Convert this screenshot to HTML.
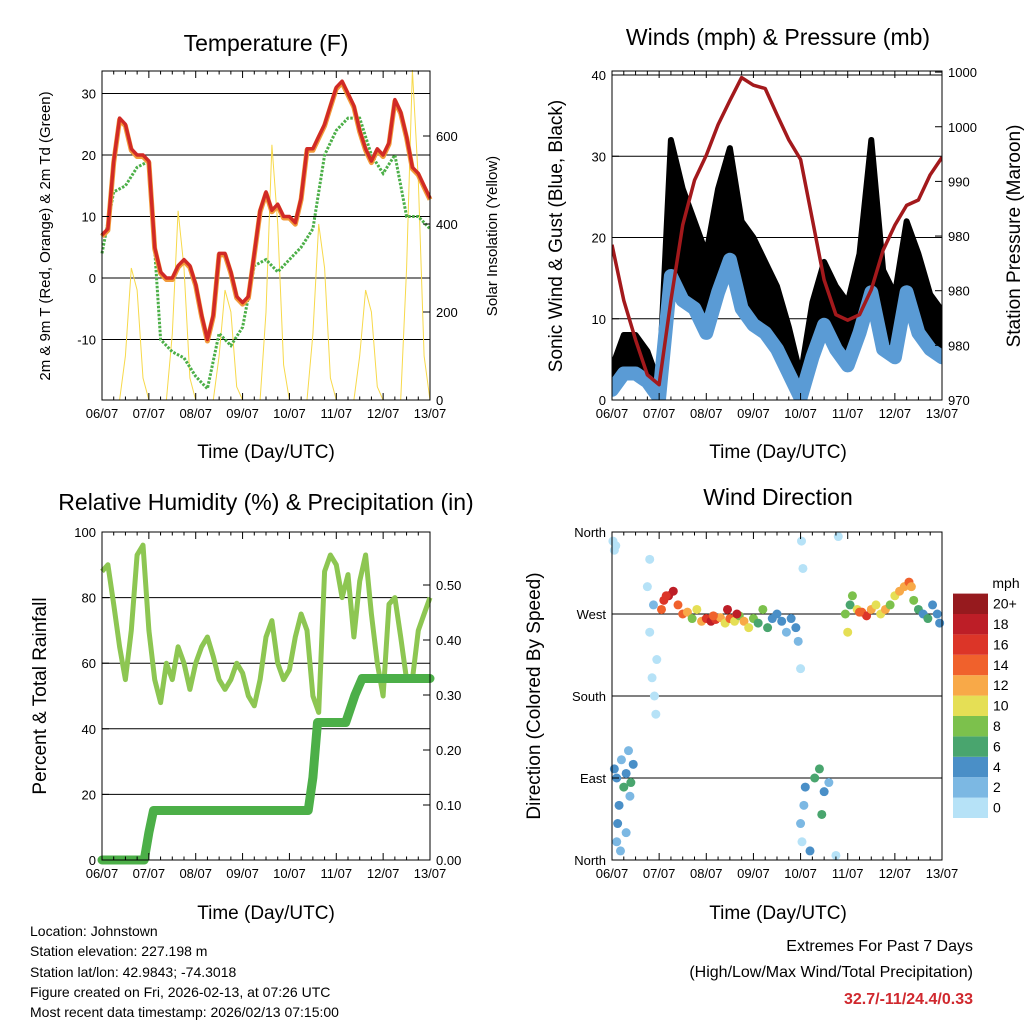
<!DOCTYPE html>
<html><head><meta charset="utf-8"><style>
html,body{margin:0;padding:0;background:#fff;}
svg{display:block;font-family:"Liberation Sans",sans-serif;}
</style></head><body>
<svg id="c" width="1024" height="1024" viewBox="0 0 1024 1024" xmlns="http://www.w3.org/2000/svg">
<defs><clipPath id="windclip"><rect x="612" y="71" width="330" height="329"/></clipPath></defs>
<rect x="0" y="0" width="1024" height="1024" fill="#fff"/>
<text x="266" y="51" font-size="23" text-anchor="middle">Temperature (F)</text>
<text x="778" y="45" font-size="23" text-anchor="middle">Winds (mph) &amp; Pressure (mb)</text>
<text x="266" y="510" font-size="23" text-anchor="middle">Relative Humidity (%) &amp; Precipitation (in)</text>
<text x="778" y="505" font-size="23" text-anchor="middle">Wind Direction</text>
<text x="266" y="458" font-size="19" text-anchor="middle">Time (Day/UTC)</text>
<text x="778" y="458" font-size="19" text-anchor="middle">Time (Day/UTC)</text>
<text x="266" y="919" font-size="19" text-anchor="middle">Time (Day/UTC)</text>
<text x="778" y="919" font-size="19" text-anchor="middle">Time (Day/UTC)</text>
<text transform="translate(50,236) rotate(-90)" font-size="15" text-anchor="middle">2m &amp; 9m T (Red, Orange) &amp; 2m Td (Green)</text>
<text transform="translate(497,236) rotate(-90)" font-size="15" text-anchor="middle">Solar Insolation (Yellow)</text>
<text transform="translate(562,236) rotate(-90)" font-size="19" text-anchor="middle">Sonic Wind &amp; Gust (Blue, Black)</text>
<text transform="translate(1020,236) rotate(-90)" font-size="19" text-anchor="middle">Station Pressure (Maroon)</text>
<text transform="translate(46,696) rotate(-90)" font-size="19" text-anchor="middle">Percent &amp; Total Rainfall</text>
<text transform="translate(540,696) rotate(-90)" font-size="19" text-anchor="middle">Direction (Colored By Speed)</text>
<g font-size="14">
<text x="30" y="936">Location: Johnstown</text>
<text x="30" y="956">Station elevation: 227.198 m</text>
<text x="30" y="977">Station lat/lon: 42.9843; -74.3018</text>
<text x="30" y="997">Figure created on Fri, 2026-02-13, at 07:26 UTC</text>
<text x="30" y="1017">Most recent data timestamp: 2026/02/13 07:15:00</text>
</g>
<text x="973" y="951" font-size="16" text-anchor="end">Extremes For Past 7 Days</text>
<text x="973" y="977" font-size="16" text-anchor="end">(High/Low/Max Wind/Total Precipitation)</text>
<text x="973" y="1004" font-size="16" font-weight="bold" fill="#d0282e" text-anchor="end">32.7/-11/24.4/0.33</text>
<text x="1006" y="588" font-size="14" text-anchor="middle">mph</text>
</svg>
<script>
// ---- data ----
const dayLabels = ['06/07','07/07','08/07','09/07','10/07','11/07','12/07','13/07'];
const temp2m = [7,8,19,26,25,21,20,20,19,5,1,0,0,2,3,2,-1,-6,-10,-6,4,4,1,-3,-4,-3,4,11,14,11,12,10,10,9,13,21,21,23,25,28,31,32,30,28,24,21,19,21,20,22,29,27,23,18,17,15,13];
const dewpt = [4,14,15,18,19,-10,-12,-13,-16,-18,-9,-11,-8,2,3,1,3,5,8,20,24,26,26,20,17,20,10,10,8];
const solar = [0,0,0,0,100,300,250,50, 0,0,0,0,150,430,300,50, 0,0,0,0,100,250,200,30, 0,0,0,0,200,580,400,80, 0,0,0,0,150,400,300,50, 0,0,0,0,100,250,200,30, 0,0,0,0,300,750,500,100, 0];
const pressure = [984.2,979.1,975.5,972.3,971.4,979.1,986.0,990.1,992.4,995.2,997.4,999.5,998.8,998.5,996.1,993.8,992.0,986.5,981.0,977.8,977.3,977.8,980.1,983.7,986.0,987.8,988.3,990.6,992.2];
const windSpd = [2,4,4,3,1,16,13,12,9,14,18,12,10,9,7,4,1,6,10,7,5,9,14,7,6,14,9,7,6];
const windGust = [4,8,8,6,2,32,26,22,18,26,31,22,20,17,14,9,3,12,17,14,12,18,32,16,13,22,18,13,11];
const rh = [88,90,78,65,55,70,93,96,70,55,48,60,55,65,60,52,60,65,68,62,55,52,55,60,57,50,47,55,68,73,60,55,58,68,75,70,50,45,88,93,90,80,87,68,85,93,75,60,50,78,80,68,55,55,70,75,80];
const precipT = [0,0.9,1.0,1.1,4.4,4.5,4.6,5.2,5.4,5.55,7];
const precipV = [0,0,0.05,0.09,0.09,0.15,0.25,0.25,0.30,0.33,0.33];
const dirT = [0.02,0.05,0.08,0.1,0.12,0.15,0.18,0.05,0.1,0.2,0.25,0.3,0.35,0.4,0.45,0.3,0.38,0.75,0.8,0.85,0.9,0.95,0.8,0.88,0.93,1.05,1.1,1.2,1.3,1.4,1.5,1.6,1.7,1.8,1.9,2.0,2.1,2.2,2.3,2.4,2.5,2.6,2.7,2.8,2.9,3.0,3.1,3.2,3.3,3.4,3.5,3.6,3.7,3.8,3.9,3.95,4.0,4.02,4.05,4.0,4.03,4.07,4.1,4.2,4.3,4.4,4.5,4.45,4.6,4.75,4.8,4.95,5.0,5.05,5.1,5.2,5.3,5.4,5.5,5.6,5.7,5.8,5.9,6.0,6.1,6.2,6.3,6.35,6.4,6.5,6.6,6.7,6.8,6.9,6.95,1.15,2.15,2.45,2.65,5.25];
const dirDeg = [350,340,345,20,40,60,10,100,90,110,80,95,120,85,105,30,70,300,250,200,180,220,330,280,160,275,285,290,295,280,270,272,265,275,262,265,262,264,266,260,265,262,268,262,255,265,260,275,255,265,270,262,250,265,255,240,210,350,320,40,20,60,80,10,90,100,75,50,85,5,355,270,250,280,290,275,272,268,275,280,270,275,280,290,295,300,305,300,285,275,270,265,280,270,260,290,268,275,270,272];
const dirSpd = [1,0,1,3,4,4,3,4,5,3,7,5,3,6,4,2,3,1,1,1,1,0,0,3,1,14,17,18,19,15,14,12,9,10,13,17,19,16,12,11,15,10,9,12,11,9,7,9,7,5,5,4,3,4,4,3,1,0,1,2,1,3,4,5,7,6,4,7,3,0,1,8,10,7,9,11,15,16,12,11,10,12,9,11,13,12,14,13,8,6,5,7,4,5,4,17,15,18,19,14];
const colorLabels = ['0','2','4','6','8','10','12','14','16','18','20+'];
const colorVals = ['#b6e2f7','#7cb8e3','#4a8fc7','#49a56e','#7cc14c','#e5df55','#f8a948','#f0612c','#dc3528','#bd1e27','#961a1e'];

// ---- helpers ----
const NS='http://www.w3.org/2000/svg';
const svg=document.getElementById('c');
function mk(tag, attrs, name, parent){
  const e=document.createElementNS(NS,tag);
  for(const k in attrs) e.setAttribute(k,attrs[k]);
  
  
  (parent||svg).appendChild(e);
  return e;
}
function txt(x,y,s,anchor,size,name,fill){
  const t=mk('text',{x:x,y:y,'font-size':size||13,'text-anchor':anchor||'middle',fill:fill||'#000'},name);
  t.textContent=s; return t;
}
function path(pts){return pts.map((p,i)=>(i?'L':'M')+p[0].toFixed(1)+','+p[1].toFixed(1)).join('');}

const panels=[
 {n:'temp',x0:102,x1:430,y0:71,y1:400},
 {n:'wind',x0:612,x1:942,y0:71,y1:400},
 {n:'rh',x0:102,x1:430,y0:532,y1:860},
 {n:'dir',x0:612,x1:942,y0:532,y1:860}
];
function sx(p,t){return p.x0+(p.x1-p.x0)*t/7;}

const P1=panels[0],P2=panels[1],P3=panels[2],P4=panels[3];
const yT=v=>278-v*6.15, yS=v=>400-v*0.44;
const yW=v=>400-v*8.125, yP=v=>400-(v-970)*10.93;
const yR=v=>860-v*3.28, yPr=v=>860-v*550;
const yD=v=>860-v*328/360;

// gridlines
[30,20,10,0,-10].forEach(v=>mk('line',{x1:P1.x0,x2:P1.x1,y1:yT(v),y2:yT(v),stroke:'#000','stroke-width':1},'temp-gridline'));
[10,20,30,40].forEach(v=>mk('line',{x1:P2.x0,x2:P2.x1,y1:yW(v),y2:yW(v),stroke:'#000','stroke-width':1},'wind-gridline'));
[20,40,60,80].forEach(v=>mk('line',{x1:P3.x0,x2:P3.x1,y1:yR(v),y2:yR(v),stroke:'#000','stroke-width':1},'rh-gridline'));
[90,180,270].forEach(v=>mk('line',{x1:P4.x0,x2:P4.x1,y1:yD(v),y2:yD(v),stroke:'#000','stroke-width':1},'dir-gridline'));

// temperature panel
const solarPts=solar.map((v,i)=>[sx(P1,i/8),yS(v)]);
mk('path',{d:path(solarPts),fill:'none',stroke:'#f7d94a','stroke-width':1},'solar-line');
const dpPts=dewpt.map((v,i)=>[sx(P1,i/4),yT(v)]);
mk('path',{d:path(dpPts),fill:'none',stroke:'#4caf48','stroke-width':3,'stroke-dasharray':'2.5 1.5'},'dewpoint-line');
const tPts=temp2m.map((v,i)=>[sx(P1,i/8),yT(v)]);
mk('path',{d:path(tPts.map(p=>[p[0],p[1]+1.5])),fill:'none',stroke:'#f29a3a','stroke-width':5,'stroke-linejoin':'round'},'temp-9m-line');
mk('path',{d:path(tPts),fill:'none',stroke:'#d12a26','stroke-width':3.5,'stroke-linejoin':'round'},'temp-2m-line');

// wind panel: black band from wind to gust
const wg=mk('g',{'clip-path':'url(#windclip)'},'wind-plot-area');
const gPts=windGust.map((v,i)=>[sx(P2,i/4),yW(v)]);
const wPts=windSpd.map((v,i)=>[sx(P2,i/4),yW(v)]);
const bandPts=gPts.concat(wPts.slice().reverse());
mk('path',{d:path(bandPts)+'Z',fill:'#000',stroke:'#000','stroke-width':6,'stroke-linejoin':'round'},'gust-series',wg);
mk('path',{d:path(wPts.map(p=>[p[0],p[1]+6])),fill:'none',stroke:'#5a9bd5','stroke-width':14,'stroke-linejoin':'round','stroke-linecap':'round'},'wind-series',wg);
const pPts=pressure.map((v,i)=>[sx(P2,i/4),yP(v)]);
mk('path',{d:path(pPts),fill:'none',stroke:'#a3191c','stroke-width':3.5,'stroke-linejoin':'round'},'pressure-line',wg);

// rh panel
const rhPts=rh.map((v,i)=>[sx(P3,i/8),yR(v)]);
mk('path',{d:path(rhPts),fill:'none',stroke:'#8dc652','stroke-width':5,'stroke-linejoin':'round'},'rh-line');
const prPts=precipT.map((t,i)=>[sx(P3,t),yPr(precipV[i])]);
mk('path',{d:path(prPts),fill:'none',stroke:'#4caf48','stroke-width':9,'stroke-linejoin':'round','stroke-linecap':'round'},'precip-line');

// direction panel
dirT.forEach((t,i)=>{
  const ci=Math.min(10,Math.floor(dirSpd[i]/2));
  mk('circle',{cx:sx(P4,t),cy:yD(dirDeg[i]),r:4.5,fill:colorVals[ci]},'direction-point');
});

// frames, ticks
panels.forEach(p=>{
  mk('rect',{x:p.x0,y:p.y0,width:p.x1-p.x0,height:p.y1-p.y0,fill:'none',stroke:'#000','stroke-width':1},p.n+'-frame');
  dayLabels.forEach((d,i)=>{
    const x=sx(p,i);
    mk('line',{x1:x,x2:x,y1:p.y1,y2:p.y1-7,stroke:'#000'},p.n+'-x-tick');
    mk('line',{x1:x,x2:x,y1:p.y0,y2:p.y0+7,stroke:'#000'},p.n+'-x-tick-top');
    txt(x,p.y1+18,d,'middle',13,p.n+'-x-tick-label');
    if(i<7){for(let k=1;k<4;k++){const xm=sx(p,i+k/4);
      mk('line',{x1:xm,x2:xm,y1:p.y1,y2:p.y1-3.5,stroke:'#000'},p.n+'-x-minor-tick');
      mk('line',{x1:xm,x2:xm,y1:p.y0,y2:p.y0+3.5,stroke:'#000'},p.n+'-x-minor-tick-top');}}
  });
});
mk('line',{x1:P2.x0,x2:P2.x1,y1:75,y2:75,stroke:'#000'},'wind-top-line');
function yTicks(p,vals,f,labels,side,name){
  vals.forEach((v,i)=>{
    const y=f(v);
    if(side==='l'){mk('line',{x1:p.x0,x2:p.x0+7,y1:y,y2:y,stroke:'#000'},name+'-tick');
      txt(p.x0-6,y+5,labels[i],'end',13,name+'-tick-label');}
    else{mk('line',{x1:p.x1,x2:p.x1-7,y1:y,y2:y,stroke:'#000'},name+'-tick');
      txt(p.x1+6,y+5,labels[i],'start',13,name+'-tick-label');}
  });
}
yTicks(P1,[30,20,10,0,-10],yT,['30','20','10','0','-10'],'l','temp-y');
yTicks(P1,[0,200,400,600],yS,['0','200','400','600'],'r','solar-y');
yTicks(P2,[0,10,20,30,40],yW,['0','10','20','30','40'],'l','wind-y');
yTicks(P2,[970,975,980,985,990,995,1000],yP,['970','980','980','980','990','1000','1000'],'r','pressure-y');
yTicks(P3,[0,20,40,60,80,100],yR,['0','20','40','60','80','100'],'l','rh-y');
yTicks(P3,[0,0.1,0.2,0.3,0.4,0.5],yPr,['0.00','0.10','0.20','0.30','0.40','0.50'],'r','precip-y');
yTicks(P4,[0,90,180,270,360],yD,['North','East','South','West','North'],'l','dir-y');

// colorbar
colorVals.forEach((c,i)=>{
  const y=818-(i+1)*20.4;
  mk('rect',{x:953,y:y,width:35,height:20.4,fill:c},'colorbar-box');
  txt(993,y+15,colorLabels[i],'start',14,'colorbar-label');
});
</script>
</body></html>
